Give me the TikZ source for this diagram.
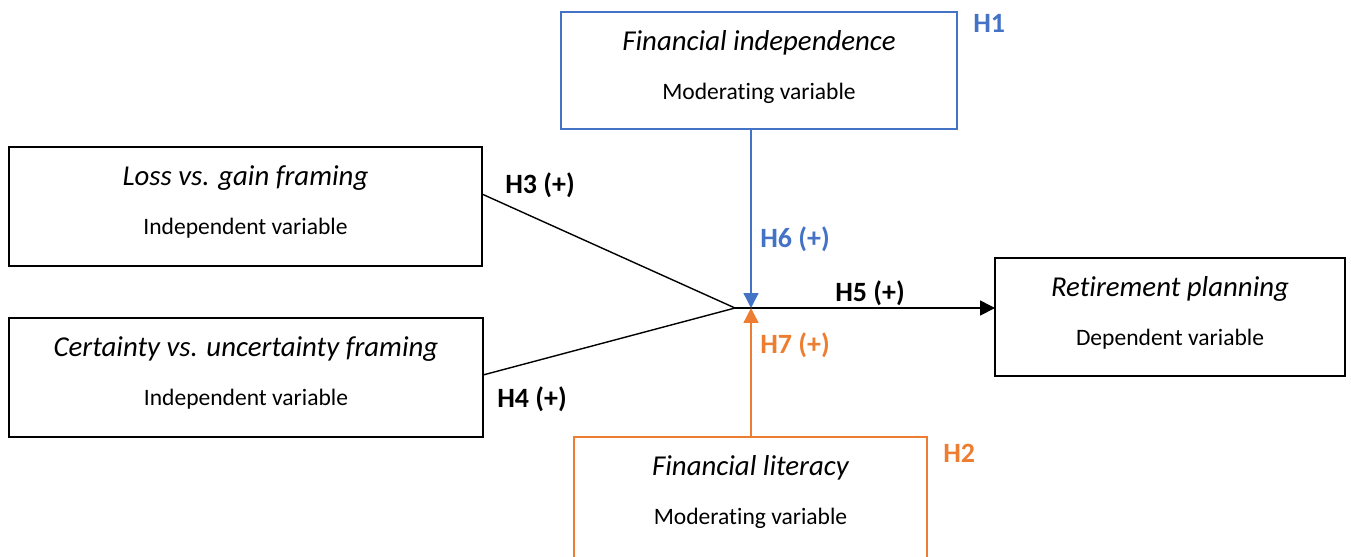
\documentclass[tikz,border=0pt]{standalone}
\usepackage{fontspec}
\setmainfont{Carlito}[RawFeature={-liga;-clig;-calt;-dlig}]
\usetikzlibrary{arrows.meta,calc}
\definecolor{hblue}{HTML}{4472C4}
\definecolor{horange}{HTML}{ED7D31}
\tikzset{
  boxstyle/.style={draw, line width=1.1pt, inner sep=0pt, outer sep=0pt, rectangle},
  titlestyle/.style={inner sep=0pt, anchor=base, font=\fontsize{16.4}{19}\selectfont\itshape},
  substyle/.style={inner sep=0pt, anchor=base, font=\fontsize{13.4}{16}\selectfont},
  hlabel/.style={inner sep=0pt, anchor=base west, font=\fontsize{15.9}{19}\selectfont\bfseries},
  conn/.style={line width=0.8pt},
  tip/.style={-{Triangle[width=8.5pt,length=8.5pt]}}
}
\newcommand\mkbox[9]{% name, x, y, w(cm), h(cm), color, title, sub, linewidth
  \node[boxstyle, draw=#6, line width=#9, minimum width=#4cm, minimum height=#5cm] (#1) at (#2,#3) {};
  \node[titlestyle] (#1-t) at ($(#1.north)+(0,38)$) {#7};
  \node[substyle] (#1-s) at ($(#1.north)+(0,87)$) {#8};
}
\begin{document}
\begin{tikzpicture}[x=0.02cm,y=-0.02cm]
\useasboundingbox (0,0) rectangle (1351,556);
\mkbox{fi}{759}{70.5}{7.92}{2.34}{hblue}{Financial independence}{Moderating variable}{1.4pt}
\mkbox{loss}{245.5}{206.5}{9.46}{2.38}{black}{Loss vs. gain framing}{Independent variable}{1.2pt}
\mkbox{cert}{246}{377.5}{9.48}{2.38}{black}{Certainty vs. uncertainty framing}{Independent variable}{1.2pt}
\mkbox{ret}{1170}{317}{7.0}{2.36}{black}{Retirement planning}{Dependent variable}{1.2pt}
\mkbox{fl}{750.5}{498}{7.06}{2.44}{horange}{Financial literacy}{Moderating variable}{1.4pt}
\coordinate (j) at (735,308);
\coordinate (m) at (751,308);
\draw[conn] ([yshift=0.25cm]loss.east) -- (j);
\draw[conn] ([yshift=0.05cm]cert.east) -- (j);
\draw[conn, tip] (j) -- (j -| ret.west);
\draw[conn, hblue, tip] (fi.south -| m) -- (m);
\draw[conn, horange, tip] (fl.north -| m) -- (m);
\node[hlabel] (h3) at (505,193) {H3 (+)};
\node[hlabel] (h4) at (497,407) {H4 (+)};
\node[hlabel] (h5) at (835,301) {H5 (+)};
\node[hlabel, text=hblue] (h6) at (760,247) {H6 (+)};
\node[hlabel, text=horange] (h7) at (760,353) {H7 (+)};
\node[hlabel, text=hblue] (h1) at (973,32) {H1};
\node[hlabel, text=horange] (h2) at (943,462) {H2};
\end{tikzpicture}
\end{document}
